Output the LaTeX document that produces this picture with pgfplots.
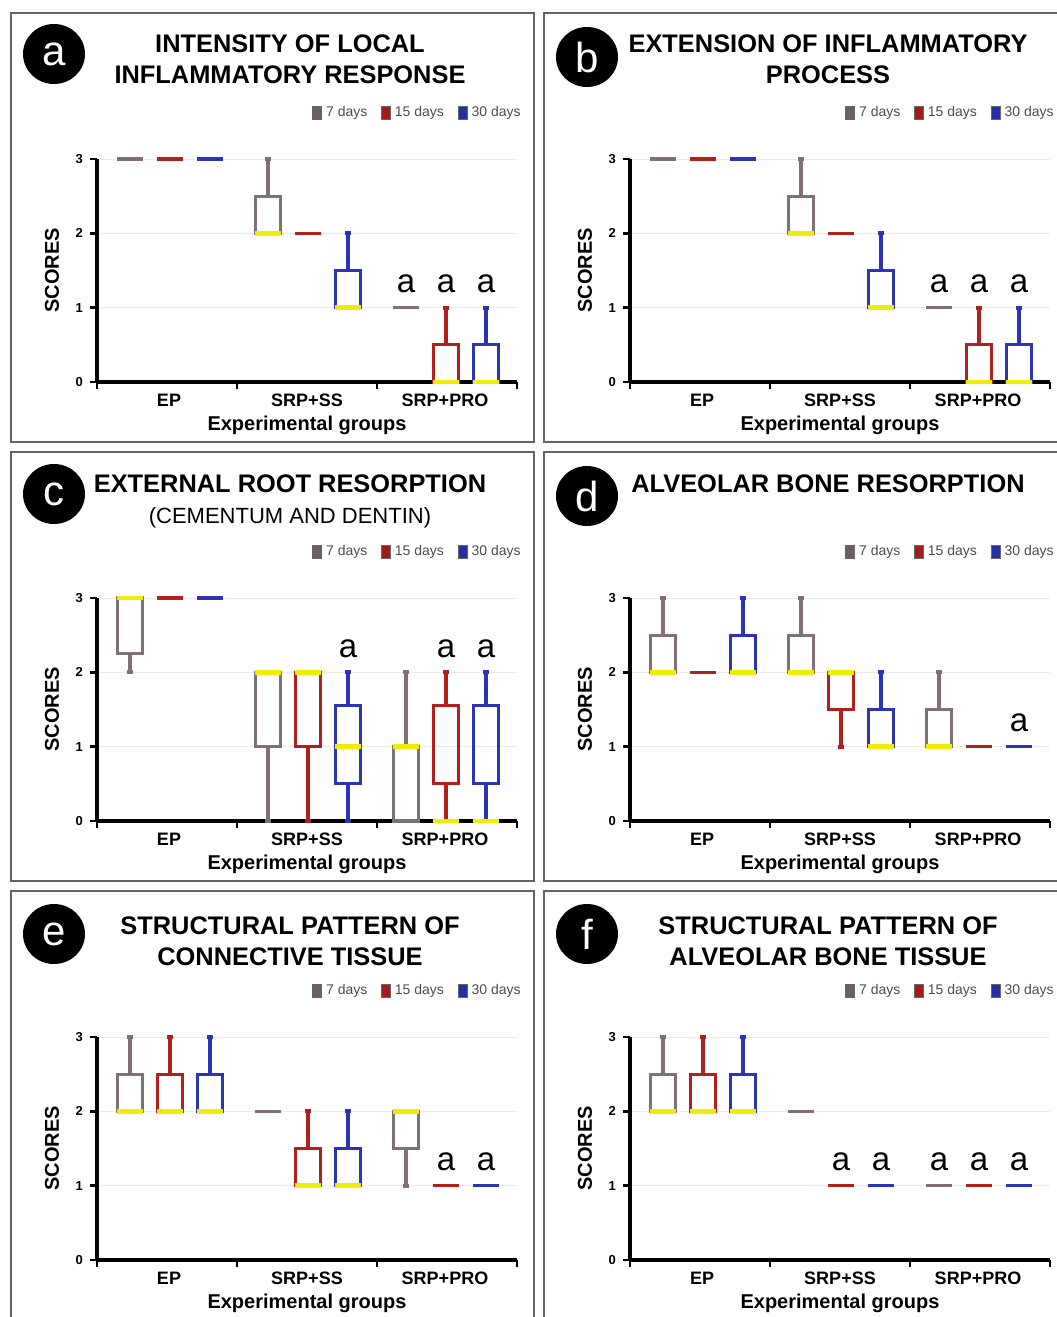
\documentclass[border=0pt]{standalone}
\usepackage{fontspec}
\setmainfont{Liberation Sans}
\usepackage{pgfplots}
\pgfplotsset{compat=1.18}
\usepgfplotslibrary{statistics}

\definecolor{gray7}{RGB}{128,112,112}
\definecolor{red15}{RGB}{178,32,28}
\definecolor{blue30}{RGB}{42,52,180}
\definecolor{medyel}{RGB}{240,236,10}
\definecolor{frm}{RGB}{100,100,100}

\newcommand{\bx}[7]{\addplot[#1, boxplot prepared={draw direction=y, draw position=#2, lower whisker=#3, lower quartile=#4, median=#5, upper quartile=#6, upper whisker=#7}] coordinates {};}
\newcommand{\dsh}[3]{\addplot[#1, boxplot/every median/.style={draw=none}, boxplot/every whisker/.style={draw=none}, boxplot prepared={draw direction=y, draw position=#2, lower whisker=#3, lower quartile=#3, median=#3, upper quartile=#3, upper whisker=#3}] coordinates {};}
\newcommand{\legs}{%
  \addlegendimage{fill=gray7!85!black}\addlegendentry{7 days}
  \addlegendimage{fill=red15!90!black}\addlegendentry{15 days}
  \addlegendimage{fill=blue30!90!black}\addlegendentry{30 days}}

\tikzset{sig/.style={anchor=base, font=\fontsize{16.5}{16.5}\selectfont, inner sep=0pt}}

\pgfplotsset{
  panel/.style={
    scale only axis, width=210pt, height=111.5pt,
    xmin=0, xmax=10.5, ymin=0, ymax=3,
    clip=false, anchor=south west,
    axis x line*=bottom, axis y line*=left,
    axis line style={line width=1.8pt, black},
    tick align=outside, major tick length=3.5pt,
    ytick={0,1,2,3},
    /pgf/number format/assume math mode=true,
    yticklabel style={font=\bfseries\fontsize{6.5}{6.5}\selectfont},
    ytick style={line width=1.2pt, black},
    xtick={0,3.5,7,10.5}, xticklabels={},
    xtick style={line width=1.2pt, black},
    extra x ticks={1.8,5.25,8.7},
    extra x tick labels={EP,SRP+SS,SRP+PRO},
    extra x tick style={major tick length=0pt, xmajorgrids=false,
      tick label style={font=\bfseries\fontsize{9}{9}\selectfont, yshift=-2.5pt}},
    ymajorgrids, grid style={black!8, line width=0.5pt},
    ylabel={SCORES},
    ylabel style={font=\bfseries\fontsize{10}{10}\selectfont, at={(axis description cs:-0.107,0.5)}, anchor=center},
    xlabel={Experimental groups},
    xlabel style={font=\bfseries\fontsize{10}{10}\selectfont, at={(axis description cs:0.5,-0.195)}, anchor=center},
    every axis plot/.append style={line width=1.6pt},
    boxplot/draw direction=y,
    boxplot/box extend=0.64,
    boxplot/whisker extend=0.15,
    boxplot/every box/.style={line width=1.6pt},
    boxplot/every whisker/.style={line width=2pt},
    boxplot/every median/.style={draw=medyel, line width=2.2pt},
    legend columns=3,
    legend cell align=left,
    legend image code/.code={\draw[##1, draw=black!60, line width=0.3pt] (0pt,-3.2pt) rectangle (4.5pt,3.2pt);},
    legend style={draw=none, fill=none, inner sep=0pt, at={(1,1)}, anchor=east, xshift=4pt, yshift=23pt,
      font=\fontsize{7}{8}\selectfont, text=black!70,
      /tikz/every even column/.append style={column sep=5pt}},
  },
}

\begin{document}
\begin{tikzpicture}
\useasboundingbox (0,0) rectangle (528pt,-658.5pt);

% frames
\begin{scope}[draw=frm, line width=0.8pt]
\draw (5.5pt,-6.5pt) rectangle (267pt,-221pt);
\draw (272pt,-6.5pt) rectangle (540pt,-221pt);
\draw (5.5pt,-226pt) rectangle (267pt,-440.5pt);
\draw (272pt,-226pt) rectangle (540pt,-440.5pt);
\draw (5.5pt,-445.5pt) rectangle (267pt,-670pt);
\draw (272pt,-445.5pt) rectangle (540pt,-670pt);
\end{scope}

% badges
\begin{scope}
\fill[black] (27pt,-27pt) ellipse [x radius=15.5pt, y radius=15pt];
\node[white, font=\fontsize{21}{21}\selectfont] at (27pt,-27pt) {a};
\fill[black] (293.5pt,-28.5pt) ellipse [x radius=15.5pt, y radius=15pt];
\node[white, font=\fontsize{21}{21}\selectfont] at (293.5pt,-28.5pt) {b};
\fill[black] (27pt,-247pt) ellipse [x radius=15.5pt, y radius=15pt];
\node[white, font=\fontsize{21}{21}\selectfont] at (27pt,-247pt) {c};
\fill[black] (293.5pt,-248pt) ellipse [x radius=15.5pt, y radius=15pt];
\node[white, font=\fontsize{21}{21}\selectfont] at (293.5pt,-248pt) {d};
\fill[black] (27pt,-467pt) ellipse [x radius=15.5pt, y radius=15pt];
\node[white, font=\fontsize{21}{21}\selectfont] at (27pt,-467pt) {e};
\fill[black] (293.5pt,-467pt) ellipse [x radius=15.5pt, y radius=15pt];
\node[white, font=\fontsize{21}{21}\selectfont] at (293.5pt,-467pt) {f};
\end{scope}

% titles
\begin{scope}[every node/.style={anchor=base, inner sep=0pt, font=\bfseries\fontsize{12.7}{15}\selectfont}]
\node at (145pt,-26pt) {INTENSITY OF LOCAL};
\node at (145pt,-41.5pt) {INFLAMMATORY RESPONSE};
\node at (414pt,-26pt) {EXTENSION OF INFLAMMATORY};
\node at (414pt,-41.5pt) {PROCESS};
\node at (145pt,-246pt) {EXTERNAL ROOT RESORPTION};
\node[font=\fontsize{11}{13}\selectfont] at (145pt,-261.5pt) {(CEMENTUM AND DENTIN)};
\node at (414pt,-246pt) {ALVEOLAR BONE RESORPTION};
\node at (145pt,-467pt) {STRUCTURAL PATTERN OF};
\node at (145pt,-482.5pt) {CONNECTIVE TISSUE};
\node at (414pt,-467pt) {STRUCTURAL PATTERN OF};
\node at (414pt,-482.5pt) {ALVEOLAR BONE TISSUE};
\end{scope}

% (a) intensity of local inflammatory response
\begin{axis}[panel, at={(48.5pt,-191pt)}]
\legs
\dsh{gray7}{0.825}{3}
\dsh{red15}{1.825}{3}
\dsh{blue30}{2.825}{3}
\bx{gray7}{4.275}{2}{2}{2}{2.5}{3}
\dsh{red15}{5.275}{2}
\bx{blue30}{6.275}{1}{1}{1}{1.5}{2}
\dsh{gray7}{7.725}{1}
\bx{red15}{8.725}{0}{0}{0}{0.5}{1}
\bx{blue30}{9.725}{0}{0}{0}{0.5}{1}
\node[sig] at (axis cs:7.725,1.2) {a};
\node[sig] at (axis cs:8.725,1.2) {a};
\node[sig] at (axis cs:9.725,1.2) {a};
\end{axis}

% (b) extension of inflammatory process
\begin{axis}[panel, at={(315pt,-191pt)}]
\legs
\dsh{gray7}{0.825}{3}
\dsh{red15}{1.825}{3}
\dsh{blue30}{2.825}{3}
\bx{gray7}{4.275}{2}{2}{2}{2.5}{3}
\dsh{red15}{5.275}{2}
\bx{blue30}{6.275}{1}{1}{1}{1.5}{2}
\dsh{gray7}{7.725}{1}
\bx{red15}{8.725}{0}{0}{0}{0.5}{1}
\bx{blue30}{9.725}{0}{0}{0}{0.5}{1}
\node[sig] at (axis cs:7.725,1.2) {a};
\node[sig] at (axis cs:8.725,1.2) {a};
\node[sig] at (axis cs:9.725,1.2) {a};
\end{axis}

% (c) external root resorption
\begin{axis}[panel, at={(48.5pt,-410.5pt)}]
\legs
\bx{gray7}{0.825}{2}{2.25}{3}{3}{3}
\dsh{red15}{1.825}{3}
\dsh{blue30}{2.825}{3}
\bx{gray7}{4.275}{0}{1}{2}{2}{2}
\bx{red15}{5.275}{0}{1}{2}{2}{2}
\bx{blue30}{6.275}{0}{0.5}{1}{1.55}{2}
\bx{gray7}{7.725}{0}{0}{1}{1}{2}
\bx{red15}{8.725}{0}{0.5}{0}{1.55}{2}
\bx{blue30}{9.725}{0}{0.5}{0}{1.55}{2}
\node[sig] at (axis cs:6.275,2.2) {a};
\node[sig] at (axis cs:8.725,2.2) {a};
\node[sig] at (axis cs:9.725,2.2) {a};
\end{axis}

% (d) alveolar bone resorption
\begin{axis}[panel, at={(315pt,-410.5pt)}]
\legs
\bx{gray7}{0.825}{2}{2}{2}{2.5}{3}
\dsh{red15}{1.825}{2}
\bx{blue30}{2.825}{2}{2}{2}{2.5}{3}
\bx{gray7}{4.275}{2}{2}{2}{2.5}{3}
\bx{red15}{5.275}{1}{1.5}{2}{2}{2}
\bx{blue30}{6.275}{1}{1}{1}{1.5}{2}
\bx{gray7}{7.725}{1}{1}{1}{1.5}{2}
\dsh{red15}{8.725}{1}
\dsh{blue30}{9.725}{1}
\node[sig] at (axis cs:9.725,1.2) {a};
\end{axis}

% (e) structural pattern of connective tissue
\begin{axis}[panel, at={(48.5pt,-630pt)}]
\legs
\bx{gray7}{0.825}{2}{2}{2}{2.5}{3}
\bx{red15}{1.825}{2}{2}{2}{2.5}{3}
\bx{blue30}{2.825}{2}{2}{2}{2.5}{3}
\dsh{gray7}{4.275}{2}
\bx{red15}{5.275}{1}{1}{1}{1.5}{2}
\bx{blue30}{6.275}{1}{1}{1}{1.5}{2}
\bx{gray7}{7.725}{1}{1.5}{2}{2}{2}
\dsh{red15}{8.725}{1}
\dsh{blue30}{9.725}{1}
\node[sig] at (axis cs:8.725,1.2) {a};
\node[sig] at (axis cs:9.725,1.2) {a};
\end{axis}

% (f) structural pattern of alveolar bone tissue
\begin{axis}[panel, at={(315pt,-630pt)}]
\legs
\bx{gray7}{0.825}{2}{2}{2}{2.5}{3}
\bx{red15}{1.825}{2}{2}{2}{2.5}{3}
\bx{blue30}{2.825}{2}{2}{2}{2.5}{3}
\dsh{gray7}{4.275}{2}
\dsh{red15}{5.275}{1}
\dsh{blue30}{6.275}{1}
\dsh{gray7}{7.725}{1}
\dsh{red15}{8.725}{1}
\dsh{blue30}{9.725}{1}
\node[sig] at (axis cs:5.275,1.2) {a};
\node[sig] at (axis cs:6.275,1.2) {a};
\node[sig] at (axis cs:7.725,1.2) {a};
\node[sig] at (axis cs:8.725,1.2) {a};
\node[sig] at (axis cs:9.725,1.2) {a};
\end{axis}
\end{tikzpicture}
\end{document}
